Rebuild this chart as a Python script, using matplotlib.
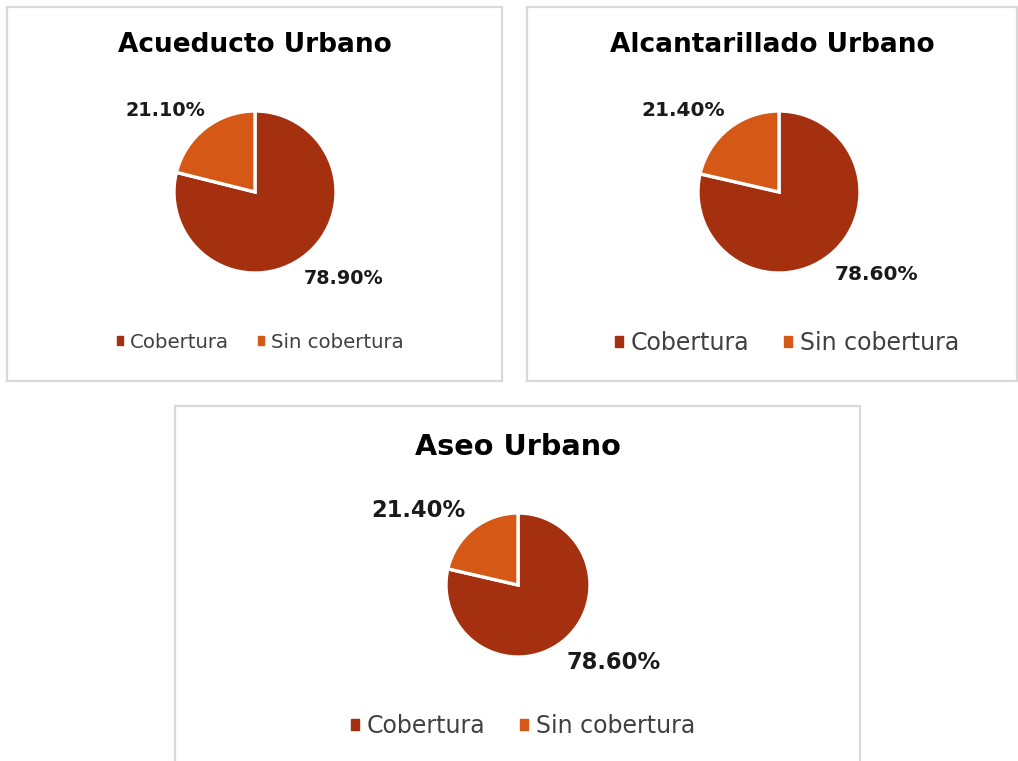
import matplotlib
matplotlib.use('Agg')
import matplotlib.pyplot as plt
import matplotlib.patches as mpatches

plt.rcParams['font.family'] = ['DejaVu Sans']

W, H = 1018, 761

categories = ['Cobertura', 'Sin cobertura']
titles = ['Acueducto Urbano', 'Alcantarillado Urbano', 'Aseo Urbano']
values = [
    [78.9, 21.1],
    [78.6, 21.4],
    [78.6, 21.4],
]
colors = ['#A5300F', '#D55816']

# panel layout in pixels: box (x0, y0, x1, y1), pie centre, radius, title y/size, legend x/y/size
panels = [
    dict(box=(7, 7, 502, 381), c=(255, 192), r=81, ty=45, tfs=19, lx=260, ly=342, lfs=14.2,
         pfs=13.8, lab=[(1.09, -1.07), (-1.11, 1.0)]),
    dict(box=(527, 7, 1017, 381), c=(779, 192), r=81, ty=45, tfs=19, lx=787, ly=343, lfs=17,
         pfs=14.5, lab=[(1.2, -1.02), (-1.18, 1.0)]),
    dict(box=(175, 406, 860, 770), c=(518, 585), r=72, ty=447, tfs=20.6, lx=523, ly=726, lfs=17,
         pfs=16.3, lab=[(1.33, -1.07), (-1.39, 1.04)]),
]


def fx(x):
    return x / W


def fy(y):
    return 1 - y / H


fig = plt.figure(figsize=(W / 100, H / 100), dpi=100)

for i, p in enumerate(panels):
    x0, y0, x1, y1 = p['box']
    fig.patches.append(mpatches.Rectangle((fx(x0), fy(y1)), fx(x1) - fx(x0), fy(y0) - fy(y1),
                                          transform=fig.transFigure, facecolor='white',
                                          edgecolor='#D9D9D9', linewidth=1.6, zorder=-5))

    s = 1.8
    cx, cy = p['c']
    r = p['r']
    ax = fig.add_axes([fx(cx - r * s), fy(cy + r * s), 2 * r * s / W, 2 * r * s / H])
    ax.set_zorder(2)
    wedges, _ = ax.pie(values[i], colors=colors, startangle=90, counterclock=False,
                       wedgeprops=dict(edgecolor='white', linewidth=2.4))
    ax.set_xlim(-s, s)
    ax.set_ylim(-s, s)
    ax.set_aspect('equal')
    ax.axis('off')
    for v, (lx, ly) in zip(values[i], p['lab']):
        ax.text(lx, ly, f'{v:.2f}%', ha='center', va='center', fontsize=p['pfs'],
                fontweight='bold', color='#1A1A1A')

    fig.text(fx((x0 + x1) / 2), fy(p['ty']), titles[i], ha='center', va='center',
             fontsize=p['tfs'], fontweight='bold', color='black')

    handles = [mpatches.Patch(color=c, label=l) for c, l in zip(colors, categories)]
    fig.legend(handles=handles, loc='center', bbox_to_anchor=(fx(p['lx']), fy(p['ly'])),
               ncol=2, frameon=False, fontsize=p['lfs'], handlelength=0.33,
               handleheight=0.33, handletextpad=0.32, columnspacing=1.5,
               labelcolor='#404040')

fig.savefig('out.png', dpi=100)
